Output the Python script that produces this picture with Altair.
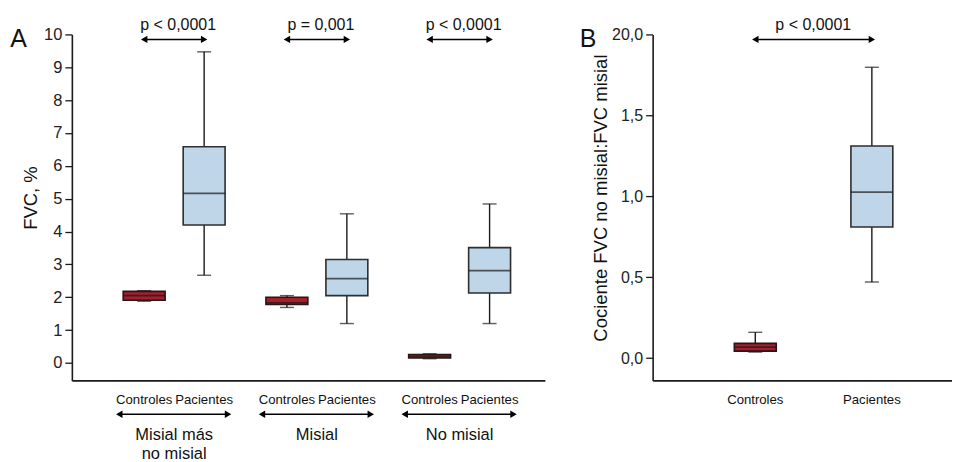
import altair as alt
import pandas as pd

# ---------------- data ----------------
groups = ["Misial más no misial", "Misial", "No misial"]
group_line1 = ["Misial más", "Misial", "No misial"]
group_line2 = ["no misial", "", ""]
grupos = ["Controles", "Pacientes"]
p_a = ["p < 0,0001", "p = 0,001", "p < 0,0001"]
p_b = ["p < 0,0001"]

# Panel A (FVC, %) box statistics per group
ctrl_min = [1.88, 1.69, 0.13]
ctrl_q1 = [1.91, 1.78, 0.15]
ctrl_med = [2.05, 1.83, 0.20]
ctrl_q3 = [2.18, 2.00, 0.26]
ctrl_max = [2.20, 2.05, 0.28]

pac_min = [2.67, 1.20, 1.20]
pac_q1 = [4.20, 2.05, 2.13]
pac_med = [5.16, 2.57, 2.81]
pac_q3 = [6.58, 3.15, 3.51]
pac_max = [9.47, 4.54, 4.84]

# Panel B (ratio) box statistics: Controles, Pacientes
b_min = [0.037, 0.47]
b_q1 = [0.043, 0.81]
b_med = [0.068, 1.026]
b_q3 = [0.091, 1.31]
b_max = [0.159, 1.797]

a_tick_values = [0.0, 1.0, 2.0, 3.0, 4.0, 5.0, 6.0, 7.0, 8.0, 9.0, 10.0]
a_tick_labels = ["0", "1", "2", "3", "4", "5", "6", "7", "8", "9", "10"]
b_tick_values = [0.0, 0.5, 1.0, 1.5, 2.0]
b_tick_labels = ["0,0", "0,5", "1,0", "1,5", "20,0"]

fill_colors = ["#a51f2d", "#bed6e8"]
stroke_colors = ["#2a1515", "#2e2e2e"]

# ---------------- tables ----------------
rows = []
for i, g in enumerate(groups):
    rows.append(dict(group=g, Grupo="Controles", mn=ctrl_min[i], q1=ctrl_q1[i],
                     med=ctrl_med[i], q3=ctrl_q3[i], mx=ctrl_max[i],
                     shape="triangle-left"))
    rows.append(dict(group=g, Grupo="Pacientes", mn=pac_min[i], q1=pac_q1[i],
                     med=pac_med[i], q3=pac_q3[i], mx=pac_max[i],
                     shape="triangle-right"))
df_a = pd.DataFrame(rows)
df_pa = pd.DataFrame({"group": groups, "p": p_a, "l1": group_line1, "l2": group_line2})

df_b = pd.DataFrame({"Grupo": grupos, "mn": b_min, "q1": b_q1, "med": b_med,
                     "q3": b_q3, "mx": b_max,
                     "shape": ["triangle-left", "triangle-right"]})
df_pb = pd.DataFrame({"a": ["Controles"], "b": ["Pacientes"], "p": p_b})

FONT = "Liberation Sans"
H = 346.7
WA = 474
WB = 300
INK = "#1a1a1a"

color_enc = alt.Color("Grupo:N", scale=alt.Scale(domain=grupos, range=fill_colors), legend=None)
stroke_enc = alt.Stroke("Grupo:N", scale=alt.Scale(domain=grupos, range=stroke_colors), legend=None)


def expr_for(labels, mult):
    return "[" + ",".join("'" + s + "'" for s in labels) + "][round(datum.value*" + str(mult) + ")]"


# ---------------- panel A ----------------
xa = alt.X("group:N", sort=groups,
           scale=alt.Scale(domain=groups, paddingInner=0, paddingOuter=0.157, align=0.69),
           axis=alt.Axis(labels=False, ticks=False, title=None, domain=True,
                         domainColor=INK, domainWidth=1.6))
xoa = alt.XOffset("Grupo:N", sort=grupos,
                  scale=alt.Scale(domain=grupos, paddingInner=0, paddingOuter=0.19))
ya_scale = alt.Scale(domain=[-0.53, 10], nice=False, zero=False)
ya_axis = alt.Axis(values=a_tick_values, tickCount=11,
                   labelExpr=expr_for(a_tick_labels, 1),
                   title=None, grid=False, tickSize=7,
                   tickColor=INK, tickWidth=1.3, domainColor=INK, domainWidth=1.6,
                   labelFontSize=16.5, labelColor="#222", labelPadding=3,
                   labelFont=FONT, labelOverlap=False, labelFlush=False)


def ya(field):
    return alt.Y(field, type="quantitative", scale=ya_scale, axis=ya_axis)


base_a = alt.Chart(df_a).encode(x=xa, xOffset=xoa)
whisk_a = base_a.mark_rule(color=INK, strokeWidth=1.4).encode(y=ya("mn"), y2="mx:Q")
capmin_a = base_a.mark_tick(size=14, thickness=1.4, color=INK).encode(y=ya("mn"))
capmax_a = base_a.mark_tick(size=14, thickness=1.4, color=INK).encode(y=ya("mx"))
box_a = base_a.mark_bar(size=42, strokeWidth=1.6).encode(
    y=ya("q1"), y2="q3:Q", color=color_enc, stroke=stroke_enc)
med_a = base_a.mark_tick(size=42, thickness=1.8, color=INK).encode(y=ya("med"))
lbl_a = base_a.mark_text(fontSize=13.2, color="#111", font=FONT).encode(
    y=alt.value(H + 20), text="Grupo:N")
tri_top_a = base_a.mark_point(filled=True, size=55, color="#000", opacity=1).encode(
    y=alt.value(5), shape=alt.Shape("shape:N", scale=None))

pbase_a = alt.Chart(df_pa).encode(x=xa)
ptxt_a = pbase_a.mark_text(fontSize=16, color="#111", dx=4, font=FONT).encode(
    y=alt.value(-9), text="p:N")
parrow_a = pbase_a.mark_bar(size=60, color="#000").encode(
    y=alt.value(4.3), y2=alt.value(5.8))
barrow_a = pbase_a.mark_bar(size=108, color="#000").encode(
    y=alt.value(380.0), y2=alt.value(381.5))
btl_a = pbase_a.mark_point(shape="triangle-left", filled=True, size=55, color="#000",
                           opacity=1, xOffset=-55).encode(y=alt.value(380.7))
btr_a = pbase_a.mark_point(shape="triangle-right", filled=True, size=55, color="#000",
                           opacity=1, xOffset=54).encode(y=alt.value(380.7))
gname1_a = pbase_a.mark_text(fontSize=16.5, color="#111", font=FONT).encode(
    y=alt.value(401.5), text="l1:N")
gname2_a = pbase_a.mark_text(fontSize=16.5, color="#111", font=FONT).encode(
    y=alt.value(420.5), text="l2:N")

letter_a = alt.Chart(pd.DataFrame({"t": ["A"]})).mark_text(
    align="left", fontSize=25, color="#111", font=FONT).encode(
    x=alt.value(-61.7), y=alt.value(4.3), text="t:N")
ytitle_a = alt.Chart(pd.DataFrame({"t": ["FVC, %"]})).mark_text(
    angle=270, fontSize=18.5, color="#111", baseline="middle", font=FONT).encode(
    x=alt.value(-40.7), y=alt.value(164), text="t:N")

panel_a = alt.layer(whisk_a, capmin_a, capmax_a, box_a, med_a, lbl_a, tri_top_a,
                    ptxt_a, parrow_a, barrow_a, btl_a, btr_a, gname1_a, gname2_a,
                    letter_a, ytitle_a).properties(width=WA, height=H)

# ---------------- panel B ----------------
xb = alt.X("Grupo:N", sort=grupos,
           scale=alt.Scale(domain=grupos, paddingInner=0, paddingOuter=0.284, align=0.67),
           axis=alt.Axis(labels=False, ticks=False, title=None, domain=True,
                         domainColor=INK, domainWidth=1.6))
yb_scale = alt.Scale(domain=[-0.138, 2.0], nice=False, zero=False)
yb_axis = alt.Axis(values=b_tick_values, tickCount=5,
                   labelExpr=expr_for(b_tick_labels, 2), title=None,
                   grid=False, tickSize=7, tickColor=INK, tickWidth=1.3,
                   domainColor=INK, domainWidth=1.6, labelFontSize=16,
                   labelColor="#222", labelPadding=3, labelFont=FONT,
                   labelOverlap=False, labelFlush=False)


def yb(field):
    return alt.Y(field, type="quantitative", scale=yb_scale, axis=yb_axis)


base_b = alt.Chart(df_b).encode(x=xb)
whisk_b = base_b.mark_rule(color=INK, strokeWidth=1.4).encode(y=yb("mn"), y2="mx:Q")
capmin_b = base_b.mark_tick(size=14, thickness=1.4, color=INK).encode(y=yb("mn"))
capmax_b = base_b.mark_tick(size=14, thickness=1.4, color=INK).encode(y=yb("mx"))
box_b = base_b.mark_bar(size=42, strokeWidth=1.6).encode(
    y=yb("q1"), y2="q3:Q", color=color_enc, stroke=stroke_enc)
med_b = base_b.mark_tick(size=42, thickness=1.8, color=INK).encode(y=yb("med"))
lbl_b = base_b.mark_text(fontSize=13.2, color="#111", font=FONT).encode(
    y=alt.value(H + 20), text="Grupo:N")
tri_b = base_b.mark_point(filled=True, size=55, color="#000", opacity=1).encode(
    y=alt.value(5), shape=alt.Shape("shape:N", scale=None))

pbase_b = alt.Chart(df_pb)
parrow_b = pbase_b.mark_rule(color="#000", strokeWidth=1.5).encode(
    x=alt.X("a:N", sort=grupos, bandPosition=0.5, scale=alt.Scale(domain=grupos)),
    x2=alt.X2("b:N", bandPosition=0.5), y=alt.value(5))
ptxt_b = alt.Chart(pd.DataFrame({"p": p_b})).mark_text(
    fontSize=16, color="#111", font=FONT).encode(
    x=alt.value(161), y=alt.value(-9), text="p:N")

letter_b = alt.Chart(pd.DataFrame({"t": ["B"]})).mark_text(
    align="left", fontSize=25, color="#111", font=FONT).encode(
    x=alt.value(-73), y=alt.value(4.3), text="t:N")
ytitle_b = alt.Chart(pd.DataFrame({"t": ["Cociente FVC no misial:FVC misial"]})).mark_text(
    angle=270, fontSize=18.5, color="#111", baseline="middle", font=FONT).encode(
    x=alt.value(-52.2), y=alt.value(164), text="t:N")

panel_b = alt.layer(whisk_b, capmin_b, capmax_b, box_b, med_b, lbl_b, tri_b,
                    parrow_b, ptxt_b, letter_b, ytitle_b).properties(width=WB, height=H)

chart = alt.hconcat(panel_a, panel_b, spacing=108, bounds="flush").properties(
    padding={"left": 2, "top": 9, "right": 0, "bottom": 0}
).configure(font=FONT).configure_view(stroke=None).configure_axis(labelOverlap=False)

chart.save("out.html", embed_options={"renderer": "svg", "actions": False})
